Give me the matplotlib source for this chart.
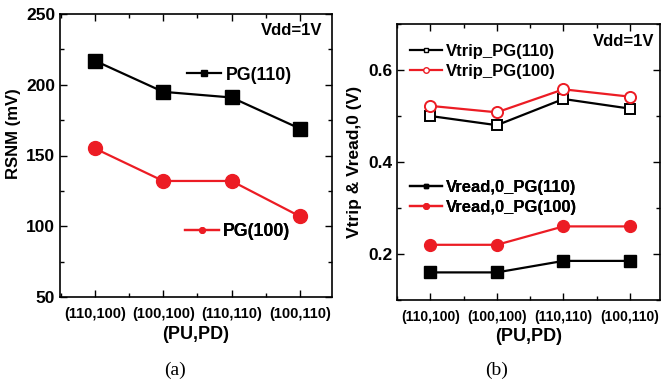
import matplotlib
matplotlib.use("Agg")
import matplotlib.pyplot as plt
from matplotlib.lines import Line2D
from matplotlib.ticker import MultipleLocator

plt.rcParams['font.family'] = ['Liberation Sans', 'DejaVu Sans']
plt.rcParams['font.weight'] = 'bold'

RED = '#ec1c24'
categories = ["(110,100)", "(100,100)", "(110,110)", "(100,110)"]

# (a) RSNM
rsnm_pg110 = [217, 195, 191, 169]
rsnm_pg100 = [155, 132, 132, 107]

# (b) Vtrip / Vread,0
vtrip_pg110 = [0.50, 0.48, 0.537, 0.516]
vtrip_pg100 = [0.522, 0.508, 0.558, 0.542]
vread_pg110 = [0.16, 0.16, 0.185, 0.185]
vread_pg100 = [0.22, 0.22, 0.26, 0.26]

W, H = 661, 388
fig = plt.figure(figsize=(W / 100, H / 100), dpi=100)


def px_axes(x0, y0, x1, y1):
    return fig.add_axes([x0 / W, 1 - y1 / H, (x1 - x0) / W, (y1 - y0) / H])


def style_axes(ax, xfs):
    x = range(len(categories))
    ax.set_xticks(list(x))
    ax.set_xticklabels(categories, fontsize=xfs, fontweight='bold')
    ax.xaxis.set_minor_locator(MultipleLocator(0.5))
    ax.tick_params(which='both', direction='in', top=True, right=True, width=1)
    ax.tick_params(which='major', length=5)
    ax.tick_params(which='minor', length=3)
    ax.tick_params(axis='x', which='major', pad=7)
    for s in ax.spines.values():
        s.set_linewidth(1.2)


def add_legend(ax, handles, x, y, fs, spacing):
    leg = ax.legend(handles=handles, loc='center left', bbox_to_anchor=(x, y),
                    frameon=False, borderpad=0, borderaxespad=0,
                    handlelength=1.9, handletextpad=0.25, labelspacing=spacing,
                    prop={'size': fs, 'weight': 'bold'})
    ax.add_artist(leg)


# ---- panel (a)
ax1 = px_axes(60, 14, 332, 297)
x = list(range(len(categories)))
ax1.plot(x, rsnm_pg110, color='black', lw=1.6, marker='s', ms=10)
ax1.plot(x, rsnm_pg100, color=RED, lw=1.6, marker='o', ms=10)
ax1.set_xlim(-0.51, 3.47)
ax1.set_ylim(50, 250)
ax1.yaxis.set_major_locator(MultipleLocator(50))
ax1.yaxis.set_minor_locator(MultipleLocator(25))
style_axes(ax1, 10.5)
for lab in ax1.get_yticklabels():
    lab.set_fontsize(12.5)
    lab.set_fontweight('bold')
ax1.set_xlabel("(PU,PD)", fontsize=13, fontweight='bold', labelpad=4)
fig.text(14 / W, 1 - 134 / H, "RSNM (mV)", rotation=90, ha='center', va='center',
         fontsize=12, fontweight='bold')
ax1.text(0.965, 0.94, "Vdd=1V", transform=ax1.transAxes, ha='right', va='center',
         fontsize=12, fontweight='bold')
add_legend(ax1, [Line2D([], [], color='black', lw=1.6, marker='s', ms=4, label='PG(110)')],
           0.468, 0.784, 12.8, 0.5)
add_legend(ax1, [Line2D([], [], color=RED, lw=1.6, marker='o', ms=4, label='PG(100)')],
           0.46, 0.231, 12.8, 0.5)

# ---- panel (b)
ax2 = px_axes(397, 24, 660, 300)
ax2.plot(x, vtrip_pg110, color='black', lw=1.6, marker='s', ms=7, mfc='white', mew=1.4)
ax2.plot(x, vtrip_pg100, color=RED, lw=1.6, marker='o', ms=8, mfc='white', mew=1.4)
ax2.plot(x, vread_pg110, color='black', lw=1.6, marker='s', ms=8)
ax2.plot(x, vread_pg100, color=RED, lw=1.6, marker='o', ms=8.5)
ax2.set_xlim(-0.5, 3.45)
ax2.set_ylim(0.1, 0.7)
ax2.yaxis.set_major_locator(MultipleLocator(0.2))
ax2.yaxis.set_minor_locator(MultipleLocator(0.1))
style_axes(ax2, 10)
for lab in ax2.get_yticklabels():
    lab.set_fontsize(12.5)
    lab.set_fontweight('bold')
ax2.set_xlabel("(PU,PD)", fontsize=13, fontweight='bold', labelpad=3)
fig.text(355 / W, 1 - 162 / H, "Vtrip & Vread,0 (V)", rotation=90, ha='center',
         va='center', fontsize=12.5, fontweight='bold')
ax2.text(0.98, 0.935, "Vdd=1V", transform=ax2.transAxes, ha='right', va='center',
         fontsize=12, fontweight='bold')
add_legend(ax2, [Line2D([], [], color='black', lw=1.6, marker='s', ms=3.5, mfc='white',
                        label='Vtrip_PG(110)'),
                 Line2D([], [], color=RED, lw=1.6, marker='o', ms=4, mfc='white',
                        label='Vtrip_PG(100)')],
           0.05, 0.864, 12, 0.3)
add_legend(ax2, [Line2D([], [], color='black', lw=1.6, marker='s', ms=3.5,
                        label='Vread,0_PG(110)'),
                 Line2D([], [], color=RED, lw=1.6, marker='o', ms=4,
                        label='Vread,0_PG(100)')],
           0.05, 0.373, 12, 0.3)

fig.text(175 / W, 1 - 370 / H, "(a)", ha='center', va='center', fontsize=14,
         family=['Liberation Serif'], fontweight='normal')
fig.text(497 / W, 1 - 370 / H, "(b)", ha='center', va='center', fontsize=14,
         family=['Liberation Serif'], fontweight='normal')

fig.savefig("out.png", dpi=100)
